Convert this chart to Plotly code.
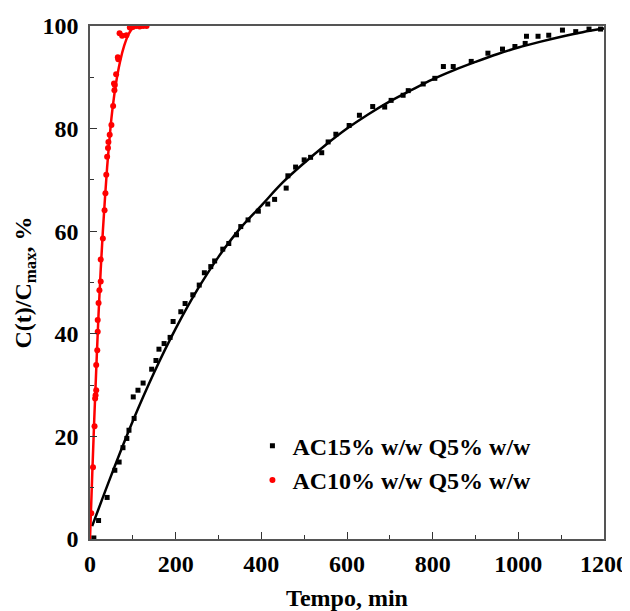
import plotly.graph_objects as go

# ---- data ----
ac15_t = [9, 20, 40, 58, 68, 77, 86, 91, 101, 103, 112, 124, 144, 154, 161, 173, 187, 194,
          212, 222, 240, 255, 267, 282, 291, 310, 324, 342, 352, 369, 393, 415, 431, 458,
          462, 480, 500, 515, 541, 556, 574, 605, 629, 660, 688, 703, 731, 743, 778, 805,
          825, 848, 890, 929, 963, 992, 1016, 1019, 1046, 1071, 1103, 1134, 1165, 1192]
ac15_v = [0.2, 3.6, 8.1, 13.4, 15.0, 17.8, 19.6, 21.2, 27.7, 23.5, 29.0, 30.4, 33.1, 34.8,
          37.0, 38.1, 39.3, 42.4, 44.3, 45.9, 47.6, 49.5, 51.9, 53.1, 54.2, 56.5, 57.6,
          59.3, 60.9, 62.2, 63.9, 65.3, 66.2, 68.4, 70.8, 72.5, 73.9, 74.4, 75.3, 77.4,
          78.9, 80.6, 82.6, 84.3, 84.2, 85.5, 86.5, 87.4, 88.7, 89.8, 92.1, 92.1, 93.1,
          94.7, 95.5, 96.0, 96.6, 98.0, 98.0, 98.2, 99.2, 98.9, 99.4, 99.4]

ac15_fit_t = [5, 50, 100, 150, 200, 250, 300, 350, 400, 450, 500, 550, 600, 650, 700, 750,
              800, 850, 900, 950, 1000, 1050, 1100, 1150, 1200]
ac15_fit_v = [2.5, 12.5, 23.0, 32.5, 41.0, 48.5, 55.0, 60.5, 65.0, 69.5, 73.3, 76.8, 80.0,
              82.8, 85.3, 87.5, 89.6, 91.4, 93.0, 94.5, 95.8, 96.9, 97.9, 98.8, 99.5]

ac10_t = [3, 7, 10.6, 12, 13, 14.5, 14.5, 17, 18, 18, 20, 22, 25, 25, 30, 34, 36, 38, 40,
          42, 43, 46, 50, 54, 56, 57, 58, 61, 65, 66, 69, 75, 85, 93, 100, 108, 116, 124, 132]
ac10_v = [5.0, 14.0, 22.0, 27.4, 28.0, 29.0, 33.9, 36.8, 40.4, 42.7, 46.0, 48.5, 50.2,
          54.5, 58.6, 64.1, 67.4, 71.0, 74.5, 76.2, 77.4, 78.8, 80.7, 84.4, 88.8, 87.5,
          88.5, 90.6, 93.9, 93.5, 98.6, 98.1, 98.2, 99.7, 99.8, 100.0, 99.9, 100.0, 100.0]

ac10_fit_t = [0, 5, 10, 15, 20, 25, 30, 35, 40, 45, 50, 55, 60, 70, 80, 90, 100, 110, 130]
ac10_fit_v = [0, 12.0, 23.5, 34.0, 44.0, 52.5, 60.0, 66.5, 72.5, 77.5, 82.0, 85.5, 88.5,
              93.0, 96.2, 98.4, 99.6, 100.0, 100.0]

x_ticks = [0, 200, 400, 600, 800, 1000, 1200]
y_ticks = [0, 20, 40, 60, 80, 100]

FONT = "Liberation Serif, Times New Roman, serif"
FS = 24

fig = go.Figure()
fig.add_trace(go.Scatter(x=ac15_fit_t, y=ac15_fit_v, mode="lines", line=dict(color="black", width=2.5, shape="spline"),
                         showlegend=False, hoverinfo="skip"))
fig.add_trace(go.Scatter(x=ac10_fit_t, y=ac10_fit_v, mode="lines", line=dict(color="#ff0000", width=2.5, shape="spline"),
                         showlegend=False, hoverinfo="skip"))
fig.add_trace(go.Scatter(x=ac15_t, y=ac15_v, mode="markers", name="AC15% w/w Q5% w/w",
                         marker=dict(symbol="square", size=5, color="black")))
fig.add_trace(go.Scatter(x=ac10_t, y=ac10_v, mode="markers", name="AC10% w/w Q5% w/w",
                         marker=dict(symbol="circle", size=6, color="#ff0000")))

axis_common = dict(showgrid=False, zeroline=False, showline=True, linecolor="#555555", linewidth=1.5,
                   mirror=True, ticks="inside", ticklen=7, tickwidth=1.2, tickcolor="#333333",
                   automargin=False,
                   tickfont=dict(family=FONT, size=FS, color="black", weight="bold"))

fig.update_xaxes(range=[0, 1200], tickvals=x_ticks, ticktext=[str(v) for v in x_ticks],
                 minor=dict(dtick=100, ticks="inside", ticklen=4, tickcolor="#333333"),
                 ticklabelstandoff=2,
                 title=dict(text="<b>Tempo, min</b>", font=dict(family=FONT, size=FS, color="black"), standoff=14),
                 **axis_common)
fig.update_yaxes(range=[0, 100], tickvals=y_ticks, ticktext=[str(v) for v in y_ticks],
                 minor=dict(dtick=10, ticks="inside", ticklen=4, tickcolor="#333333"),
                 ticklabelstandoff=5,
                 title=dict(text="<b>C(t)/C<sub>max</sub>, %</b>", font=dict(family=FONT, size=FS, color="black"), standoff=4),
                 **axis_common)

# the page body has an 8px margin, so the figure is sized to fit inside the window
fig.update_layout(
    width=622, height=603,
    margin=dict(l=82, r=26, t=18, b=72),
    paper_bgcolor="white", plot_bgcolor="white",
    font=dict(family=FONT, size=FS, color="black", weight="bold"),
    legend=dict(x=0.316, y=0.225, xanchor="left", yanchor="top", bgcolor="rgba(0,0,0,0)",
                font=dict(family=FONT, size=FS, color="black", weight="bold"), itemwidth=30),
)

fig.write_html("out.html")
